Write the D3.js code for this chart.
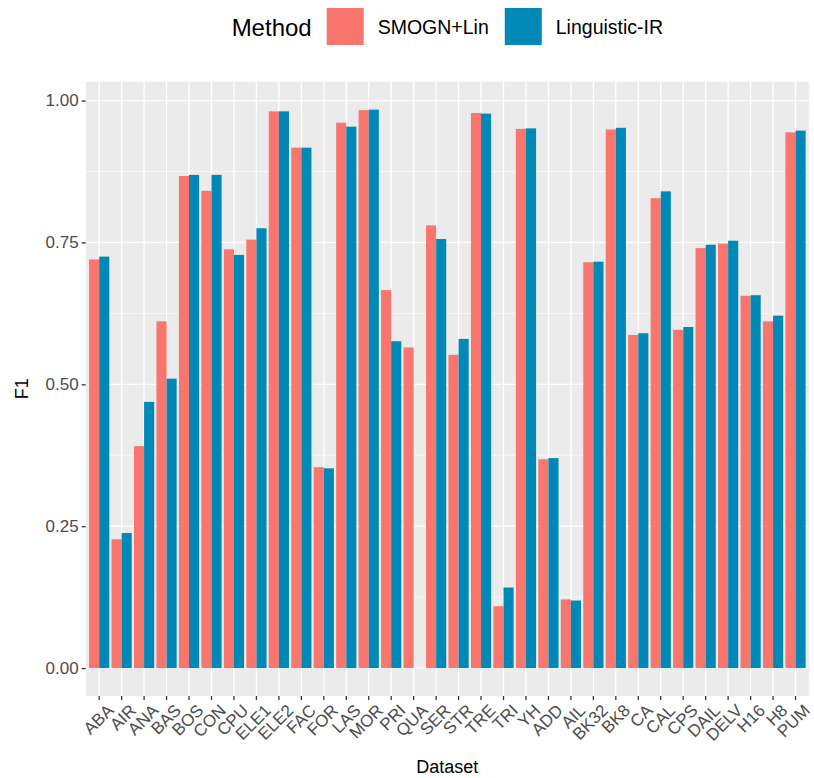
<!DOCTYPE html>
<html>
<head>
<meta charset="utf-8">
<script src="https://cdn.jsdelivr.net/npm/d3@7"></script>
<style>
  body { margin: 0; background: #fff; }
  svg { display: block; font-family: "Liberation Sans", Arial, sans-serif; }
</style>
</head>
<body>
<div id="chart"></div>
<script>
const categories = ["ABA","AIR","ANA","BAS","BOS","CON","CPU","ELE1","ELE2","FAC","FOR","LAS","MOR","PRI","QUA","SER","STR","TRE","TRI","YH","ADD","AIL","BK32","BK8","CA","CAL","CPS","DAIL","DELV","H16","H8","PUM"];
const seriesNames = ["SMOGN+Lin", "Linguistic-IR"];
const smognLin = [0.720,0.227,0.391,0.611,0.867,0.841,0.738,0.755,0.981,0.917,0.354,0.961,0.983,0.666,0.565,0.780,0.552,0.978,0.109,0.950,0.368,0.121,0.715,0.949,0.587,0.828,0.596,0.740,0.748,0.656,0.611,0.944];
const linguisticIR = [0.725,0.238,0.469,0.510,0.869,0.869,0.728,0.775,0.981,0.917,0.352,0.954,0.984,0.576,null,0.756,0.580,0.977,0.142,0.951,0.370,0.119,0.716,0.952,0.590,0.840,0.601,0.746,0.753,0.657,0.621,0.947];
const yTicks = [0, 0.25, 0.5, 0.75, 1.0];
const yMinorTicks = [0.125, 0.375, 0.625, 0.875];
const colors = ["#F8766D", "#0089B7"];

const W = 814, H = 778;
const panel = { left: 85.7, right: 809, top: 81.7, bottom: 696 };

const svg = d3.select("#chart").append("svg").attr("width", W).attr("height", H);

const data = categories.map((c, i) => ({ cat: c, vals: [smognLin[i], linguisticIR[i]] }));
const allVals = smognLin.concat(linguisticIR).filter(v => v != null);
const yMax = d3.max(allVals), yMin = 0;
const ext = (yMax - yMin) * 0.05;

const y = d3.scaleLinear().domain([yMin - ext, yMax + ext]).range([panel.bottom, panel.top]);
const x = d3.scaleBand().domain(categories).range([panel.left, panel.right]).paddingInner(0.1).paddingOuter(0.15);
const xs = d3.scaleBand().domain(seriesNames).range([0, x.bandwidth()]);
const cx = c => x(c) + x.bandwidth() / 2;

// panel background
svg.append("rect").attr("x", panel.left).attr("y", panel.top)
  .attr("width", panel.right - panel.left).attr("height", panel.bottom - panel.top)
  .attr("fill", "#EBEBEB");

const grid = svg.append("g");
grid.selectAll("line.minor").data(yMinorTicks).join("line")
  .attr("x1", panel.left).attr("x2", panel.right)
  .attr("y1", d => y(d)).attr("y2", d => y(d))
  .attr("stroke", "#fff").attr("stroke-width", 0.6);
grid.selectAll("line.major").data(yTicks).join("line")
  .attr("x1", panel.left).attr("x2", panel.right)
  .attr("y1", d => y(d)).attr("y2", d => y(d))
  .attr("stroke", "#fff").attr("stroke-width", 1.3);
grid.selectAll("line.vx").data(categories).join("line")
  .attr("x1", d => cx(d)).attr("x2", d => cx(d))
  .attr("y1", panel.top).attr("y2", panel.bottom)
  .attr("stroke", "#fff").attr("stroke-width", 1.3);

// bars
const groups = svg.append("g").selectAll("g").data(data).join("g")
  .attr("transform", d => `translate(${x(d.cat)},0)`);
groups.selectAll("rect").data(d => d.vals.map((v, j) => ({ v, s: seriesNames[j], j })).filter(e => e.v != null))
  .join("rect")
  .attr("x", e => xs(e.s))
  .attr("width", xs.bandwidth())
  .attr("y", e => y(Math.max(0, e.v)))
  .attr("height", e => Math.abs(y(0) - y(e.v)))
  .attr("fill", e => colors[e.j]);

// y axis
const yAxis = svg.append("g").attr("transform", `translate(${panel.left},0)`)
  .call(d3.axisLeft(y).tickValues(yTicks).tickFormat(d3.format(".2f")).tickSize(4).tickPadding(3));
yAxis.select(".domain").remove();
yAxis.selectAll(".tick line").attr("stroke", "#333").attr("stroke-width", 1.3);
yAxis.selectAll(".tick text").attr("fill", "#4D4D4D").style("font-size", "17px")
  .style("font-family", "'Liberation Sans', Arial, sans-serif");

// x axis
const xAxis = svg.append("g").attr("transform", `translate(0,${panel.bottom})`)
  .call(d3.axisBottom(x).tickSize(4).tickFormat(""));
xAxis.select(".domain").remove();
xAxis.selectAll(".tick line").attr("stroke", "#333").attr("stroke-width", 1.3);
xAxis.selectAll(".tick").append("text")
  .attr("text-anchor", "end")
  .attr("fill", "#4D4D4D")
  .style("font-size", "17px")
  .attr("dominant-baseline", "hanging")
  .attr("transform", "translate(7,7) rotate(-45)")
  .text(d => d);

// axis titles
svg.append("text").attr("x", (panel.left + panel.right) / 2).attr("y", 773)
  .attr("text-anchor", "middle").attr("fill", "#000").style("font-size", "18px").text("Dataset");
svg.append("text").attr("transform", `translate(28,${(panel.top + panel.bottom) / 2}) rotate(-90)`)
  .attr("text-anchor", "middle").attr("fill", "#000").style("font-size", "18px").text("F1");

// legend
const lg = svg.append("g");
const title = lg.append("text").attr("y", 36).style("font-size", "24px").attr("fill", "#000").text("Method");
const keySize = 37;
let items = [];
seriesNames.forEach((s, j) => {
  const r = lg.append("rect").attr("y", 8).attr("width", keySize).attr("height", keySize).attr("fill", colors[j]);
  const t = lg.append("text").attr("y", 34).style("font-size", "19.5px").attr("fill", "#000").text(s);
  items.push({ r, t });
});
let cur = 0;
title.attr("x", cur); cur += title.node().getComputedTextLength() + 15;
items.forEach((it, j) => {
  it.r.attr("x", cur); cur += keySize + 14;
  it.t.attr("x", cur); cur += it.t.node().getComputedTextLength() + (j === 0 ? 16 : 0);
});
const lgCenter = (panel.left + panel.right) / 2;
lg.attr("transform", `translate(${lgCenter - cur / 2},0)`);
</script>
</body>
</html>
